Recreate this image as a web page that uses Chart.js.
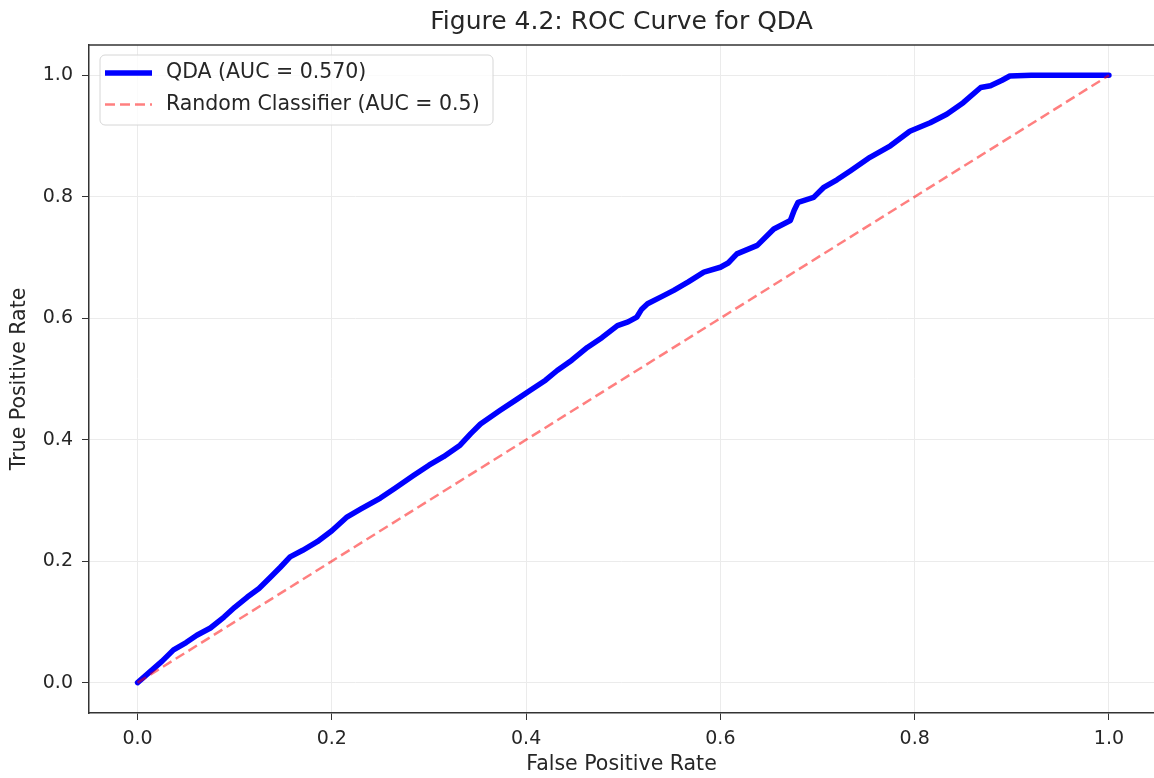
<!DOCTYPE html>
<html>
<head>
<meta charset="utf-8">
<script src="https://cdn.jsdelivr.net/npm/chart.js@4.4.1/dist/chart.umd.min.js"></script>
<style>
  html,body{margin:0;padding:0;background:#fff;overflow:hidden;}
  #wrap{width:1154px;height:778px;}
</style>
</head>
<body>
<div id="wrap"><canvas id="roc" width="1154" height="778"></canvas></div>
<script>
// ── Data ──
const fpr=[0,0.01,0.025,0.037,0.05,0.061,0.075,0.089,0.1,0.113,0.125,0.137,0.147,0.157,0.17,0.185,
  0.2,0.215,0.23,0.25,0.265,0.284,0.3,0.315,0.332,0.343,0.353,0.373,0.39,0.404,0.42,0.432,0.447,
  0.463,0.478,0.494,0.505,0.514,0.519,0.525,0.54,0.552,0.567,0.583,0.6,0.608,0.617,0.638,0.655,
  0.672,0.676,0.68,0.696,0.706,0.72,0.734,0.754,0.775,0.795,0.816,0.833,0.85,0.868,0.878,0.89,
  0.898,0.92,1.0];
const tpr=[0,0.014,0.035,0.054,0.066,0.078,0.09,0.108,0.124,0.141,0.155,0.174,0.19,0.207,0.218,0.232,
  0.25,0.272,0.286,0.304,0.32,0.341,0.358,0.372,0.391,0.41,0.426,0.448,0.466,0.481,0.498,0.514,0.531,
  0.552,0.568,0.588,0.594,0.602,0.615,0.624,0.636,0.646,0.66,0.676,0.684,0.691,0.706,0.72,0.747,
  0.761,0.778,0.791,0.799,0.815,0.828,0.843,0.865,0.884,0.908,0.922,0.936,0.955,0.98,0.983,0.992,
  0.999,1.0,1.0];
const diagX=[0,1],diagY=[0,1];
const xTicks=[0,0.2,0.4,0.6,0.8,1.0];
const yTicks=[0,0.2,0.4,0.6,0.8,1.0];
const qdaLabel='QDA (AUC = 0.570)';
const randLabel='Random Classifier (AUC = 0.5)';

const FONT='"DejaVu Sans", sans-serif';
const INK='#262626';

const toPts=(xs,ys)=>xs.map((x,i)=>({x,y:ys[i]}));

// ── Frame (top spine) + matplotlib-style legend box ──
const framePlugin={
  id:'frame',
  afterDraw(chart){
    const {ctx,chartArea:a}=chart;
    ctx.save();
    ctx.strokeStyle='#333';ctx.lineWidth=1.5;
    ctx.beginPath();ctx.moveTo(a.left,a.top);ctx.lineTo(a.right,a.top);ctx.stroke();

    // legend
    const bx=a.left+11,by=a.top+10,bw=393,bh=70,r=5;
    ctx.beginPath();
    ctx.roundRect(bx,by,bw,bh,r);
    ctx.fillStyle='rgba(255,255,255,0.8)';ctx.fill();
    ctx.strokeStyle='#d6d6d6';ctx.lineWidth=1;ctx.stroke();

    const ds=chart.data.datasets;
    const rows=[ds[1],ds[0]];
    rows.forEach((d,i)=>{
      const y=by+18+i*31.5;
      ctx.beginPath();
      ctx.setLineDash(d.borderDash||[]);
      ctx.strokeStyle=d.borderColor;ctx.lineWidth=d.borderWidth;
      ctx.moveTo(bx+5,y);ctx.lineTo(bx+52,y);ctx.stroke();
      ctx.setLineDash([]);
      ctx.fillStyle=INK;ctx.font='20.5px '+FONT;ctx.textBaseline='middle';ctx.textAlign='left';
      ctx.fillText(d.label,bx+66,y);
    });
    ctx.restore();
  }
};

new Chart(document.getElementById('roc'),{
  type:'line',
  data:{datasets:[
    {label:randLabel,data:toPts(diagX,diagY),borderColor:'rgba(255,0,0,0.5)',borderWidth:2.5,
     borderDash:[10,5],pointRadius:0,tension:0,order:1},
    {label:qdaLabel,data:toPts(fpr,tpr),borderColor:'#0000ff',borderWidth:5.5,pointRadius:0,tension:0,
     borderJoinStyle:'round',borderCapStyle:'round',order:2}
  ]},
  options:{
    responsive:false,animation:false,
    layout:{padding:0},
    scales:{
      x:{type:'linear',min:-0.05,max:1.0464,
        afterFit(s){s.height=65;},
        afterBuildTicks(s){s.ticks=xTicks.map(v=>({value:v}));},
        grid:{color:'#ebebeb',lineWidth:1,tickColor:'#333',tickLength:7},
        border:{color:'#333',width:1.5},
        ticks:{color:INK,font:{family:FONT,size:19},padding:8,maxRotation:0,callback:v=>v.toFixed(1)},
        title:{display:true,text:'False Positive Rate',color:INK,font:{family:FONT,size:20.5},padding:{top:0,bottom:1}}
      },
      y:{type:'linear',min:-0.05,max:1.05,
        afterFit(s){s.width=89;},
        afterBuildTicks(s){s.ticks=yTicks.map(v=>({value:v}));},
        grid:{color:'#ebebeb',lineWidth:1,tickColor:'#333',tickLength:7},
        border:{color:'#333',width:1.5},
        ticks:{color:INK,font:{family:FONT,size:19},padding:9,callback:v=>v.toFixed(1)},
        title:{display:true,text:'True Positive Rate',color:INK,font:{family:FONT,size:20.5},padding:{top:7,bottom:0}}
      }
    },
    plugins:{
      legend:{display:false},
      tooltip:{enabled:false},
      title:{display:true,fullSize:false,text:'Figure 4.2: ROC Curve for QDA',color:INK,
        font:{family:FONT,size:25,weight:'normal'},padding:{top:7.5,bottom:7.5}}
    }
  },
  plugins:[framePlugin]
});
</script>
</body>
</html>
